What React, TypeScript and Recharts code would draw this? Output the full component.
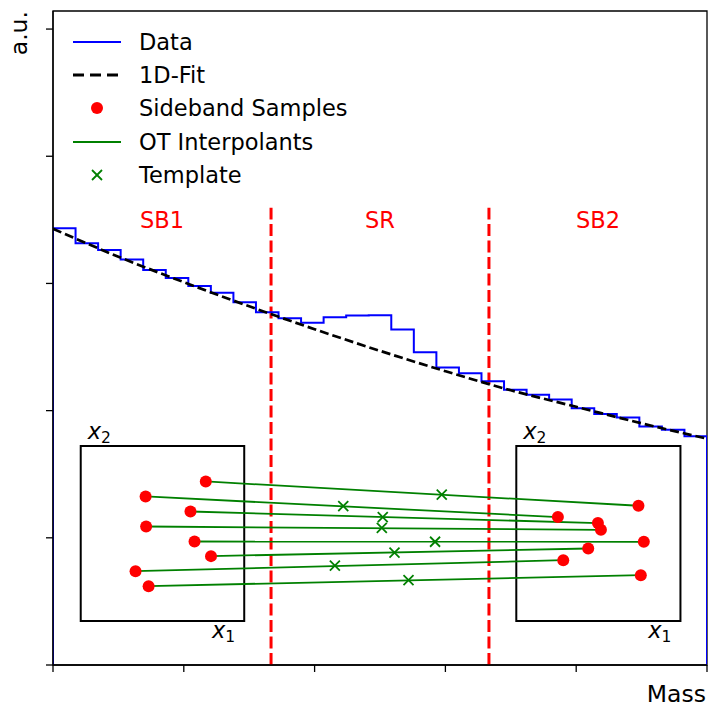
import React from 'react';
import {
  ComposedChart,
  Line,
  Scatter,
  XAxis,
  YAxis,
  ReferenceLine,
  ReferenceArea,
  Legend,
} from 'recharts';

const FONT = '"DejaVu Sans", sans-serif';

// axes
const X_MIN = 0;
const X_MAX = 5;
const Y_MAX = 5.142;
const xTicks = [0, 1, 2, 3, 4, 5];
const yTicks = [0, 1, 2, 3, 4, 5];

// histogram (29 equal bins over the mass range)
const histValues = [
  3.433, 3.315, 3.262, 3.189, 3.105, 3.042, 2.979, 2.927, 2.853, 2.774,
  2.727, 2.691, 2.735, 2.748, 2.75, 2.638, 2.459, 2.339, 2.294, 2.231,
  2.165, 2.124, 2.087, 2.018, 1.974, 1.945, 1.876, 1.85, 1.798,
];

// 1D fit curve (read at regular mass positions)
const fitX = [0, 0.5, 1, 1.5, 2, 2.5, 3, 3.5, 4, 4.5, 5];
const fitY = [3.43, 3.21, 3.01, 2.82, 2.64, 2.47, 2.31, 2.16, 2.03, 1.9, 1.78];

// region boundaries and labels
const boundaries = [1.667, 3.333];
const boundaryTop = 3.595;
const regionCenters = [0.833, 2.5, 4.167];
const regionNames = ['SB1', 'SR', 'SB2'];
const regionLabelY = 3.433;

// inset boxes
const boxX1 = [0.212, 3.542];
const boxX2 = [1.462, 4.797];
const boxYLow = 0.346;
const boxYHigh = 1.722;

// sideband samples
const sbLeftX = [1.168, 0.708, 1.051, 0.712, 1.082, 1.208, 0.631, 0.731];
const sbLeftY = [1.443, 1.325, 1.207, 1.089, 0.971, 0.856, 0.738, 0.62];
const sbRightX = [4.476, 3.86, 4.166, 4.189, 4.517, 4.092, 3.901, 4.494];
const sbRightY = [1.252, 1.163, 1.116, 1.063, 0.969, 0.916, 0.824, 0.706];

// template points
const templateX = [2.972, 2.219, 2.521, 2.514, 2.921, 2.611, 2.155, 2.718];
const templateY = [1.339, 1.25, 1.163, 1.079, 0.969, 0.884, 0.782, 0.667];

// legend
const legendLabels = ['Data', '1D-Fit', 'Sideband Samples', 'OT Interpolants', 'Template'];

// ---- derived tables ----
const binWidth = (X_MAX - X_MIN) / histValues.length;
const histData = [
  { x: X_MIN, y: 0 },
  ...histValues.map((v, i) => ({ x: X_MIN + i * binWidth, y: v })),
  { x: X_MAX, y: histValues[histValues.length - 1] },
  { x: X_MAX, y: 0 },
];
const fitData = fitX.map((x, i) => ({ x, y: fitY[i] }));
const pairs = sbLeftX.map((_, i) => [
  { x: sbLeftX[i], y: sbLeftY[i] },
  { x: sbRightX[i], y: sbRightY[i] },
]);
const sampleData = [
  ...sbLeftX.map((x, i) => ({ x, y: sbLeftY[i] })),
  ...sbRightX.map((x, i) => ({ x, y: sbRightY[i] })),
];
const templateData = templateX.map((x, i) => ({ x, y: templateY[i] }));
const regionLabelData = regionCenters.map((x, i) => ({ x, y: regionLabelY, label: regionNames[i] }));
const x2LabelData = boxX1.map((x) => ({ x, y: boxYHigh }));
const x1LabelData = boxX2.map((x) => ({ x, y: boxYLow }));

const RED = '#ff0000';
const GREEN = '#008000';
const BLUE = '#0000ff';

const Dot = (p: any) => <circle cx={p.cx} cy={p.cy} r={6} fill={RED} />;
const Cross = (p: any) => (
  <g stroke={GREEN} strokeWidth={1.8}>
    <line x1={p.cx - 5} y1={p.cy - 5} x2={p.cx + 5} y2={p.cy + 5} />
    <line x1={p.cx - 5} y1={p.cy + 5} x2={p.cx + 5} y2={p.cy - 5} />
  </g>
);
const RegionText = (p: any) => (
  <text x={p.cx} y={p.cy} textAnchor="middle" fill={RED} fontSize={22.5} fontFamily={FONT}>
    {p.payload.label}
  </text>
);
const X2Text = (p: any) => (
  <text x={p.cx + 7} y={p.cy - 7} fill="#000" fontSize={22.5} fontFamily={FONT}>
    <tspan fontStyle="italic">x</tspan>
    <tspan fontSize={15.5} dy={4}>2</tspan>
  </text>
);
const X1Text = (p: any) => (
  <text x={p.cx - 9} y={p.cy + 17} textAnchor="end" fill="#000" fontSize={22.5} fontFamily={FONT}>
    <tspan fontStyle="italic">x</tspan>
    <tspan fontSize={15.5} dy={4}>1</tspan>
  </text>
);

const renderXLabel = (props: any) => {
  const vb = props.viewBox;
  return (
    <text x={vb.x + vb.width - 1} y={vb.y + 37} textAnchor="end" fill="#000" fontSize={23.5} fontFamily={FONT}>
      Mass
    </text>
  );
};
const renderYLabel = (props: any) => {
  const vb = props.viewBox;
  return (
    <text
      x={27}
      y={vb.y}
      transform={`rotate(-90 27 ${vb.y})`}
      textAnchor="end"
      fill="#000"
      fontSize={23.5}
      fontFamily={FONT}
    >
      a.u.
    </text>
  );
};

const LegendIcon = ({ i }: { i: number }) => {
  if (i === 0) return <line x1={9} y1={16} x2={57} y2={16} stroke={BLUE} strokeWidth={2} />;
  if (i === 1)
    return <line x1={9} y1={16} x2={57} y2={16} stroke="#000" strokeWidth={3} strokeDasharray="11 6" />;
  if (i === 2) return <circle cx={33} cy={16} r={6} fill={RED} />;
  if (i === 3) return <line x1={9} y1={16} x2={57} y2={16} stroke={GREEN} strokeWidth={2} />;
  return (
    <g stroke={GREEN} strokeWidth={1.8}>
      <line x1={28} y1={11} x2={38} y2={21} />
      <line x1={28} y1={21} x2={38} y2={11} />
    </g>
  );
};

const renderLegend = () => (
  <div style={{ fontFamily: FONT, fontSize: 22.5, color: '#000' }}>
    {legendLabels.map((lab, i) => (
      <div key={lab} style={{ display: 'flex', alignItems: 'center', height: 33.3 }}>
        <svg width={75} height={32} style={{ display: 'block' }}>
          <LegendIcon i={i} />
        </svg>
        <span style={{ lineHeight: '32px', whiteSpace: 'nowrap' }}>{lab}</span>
      </div>
    ))}
  </div>
);

export default function App() {
  return (
    <div style={{ position: 'absolute', left: 0, top: 0 }}>
      <ComposedChart width={708} height={709} margin={{ top: 11, right: 1, bottom: 0, left: 0 }}>
        <XAxis
          type="number"
          dataKey="x"
          domain={[X_MIN, X_MAX]}
          ticks={xTicks}
          interval={0}
          allowDataOverflow
          height={44}
          tickSize={7}
          tickFormatter={() => ''}
          axisLine={{ stroke: '#000', strokeWidth: 1.3 }}
          tickLine={{ stroke: '#000', strokeWidth: 1.3 }}
          label={renderXLabel}
        />
        <YAxis
          type="number"
          dataKey="y"
          domain={[0, Y_MAX]}
          ticks={yTicks}
          interval={0}
          allowDataOverflow
          width={53}
          tickSize={7}
          tickFormatter={() => ''}
          axisLine={{ stroke: '#000', strokeWidth: 1.3 }}
          tickLine={{ stroke: '#000', strokeWidth: 1.3 }}
          label={renderYLabel}
        />
        <ReferenceArea x1={X_MIN} x2={X_MAX} y1={0} y2={Y_MAX} fill="none" stroke="#000" strokeWidth={1.3} />
        {boxX1.map((x1, i) => (
          <ReferenceArea
            key={`box${i}`}
            x1={x1}
            x2={boxX2[i]}
            y1={boxYLow}
            y2={boxYHigh}
            fill="none"
            fillOpacity={0}
            stroke="#000"
            strokeWidth={2}
          />
        ))}
        {boundaries.map((b) => (
          <ReferenceLine
            key={`b${b}`}
            segment={[
              { x: b, y: 0 },
              { x: b, y: boundaryTop },
            ]}
            stroke={RED}
            strokeWidth={3}
            strokeDasharray="12 4.5"
          />
        ))}
        <Line
          data={histData}
          dataKey="y"
          type="stepAfter"
          stroke={BLUE}
          strokeWidth={2}
          dot={false}
          activeDot={false}
          isAnimationActive={false}
        />
        <Line
          data={fitData}
          dataKey="y"
          type="monotone"
          stroke="#000"
          strokeWidth={2.7}
          strokeDasharray="9 4"
          dot={false}
          activeDot={false}
          isAnimationActive={false}
        />
        {pairs.map((p, i) => (
          <Line
            key={`pair${i}`}
            data={p}
            dataKey="y"
            type="linear"
            stroke={GREEN}
            strokeWidth={1.8}
            dot={false}
            activeDot={false}
            isAnimationActive={false}
          />
        ))}
        <Scatter data={sampleData} dataKey="y" shape={Dot} isAnimationActive={false} />
        <Scatter data={templateData} dataKey="y" shape={Cross} isAnimationActive={false} />
        <Scatter data={regionLabelData} dataKey="y" shape={RegionText} isAnimationActive={false} />
        <Scatter data={x2LabelData} dataKey="y" shape={X2Text} isAnimationActive={false} />
        <Scatter data={x1LabelData} dataKey="y" shape={X1Text} isAnimationActive={false} />
        <Legend
          layout="vertical"
          align="center"
          verticalAlign="middle"
          content={renderLegend}
          wrapperStyle={{ position: 'absolute', left: 64, top: 25, width: 330 }}
        />
      </ComposedChart>
    </div>
  );
}
